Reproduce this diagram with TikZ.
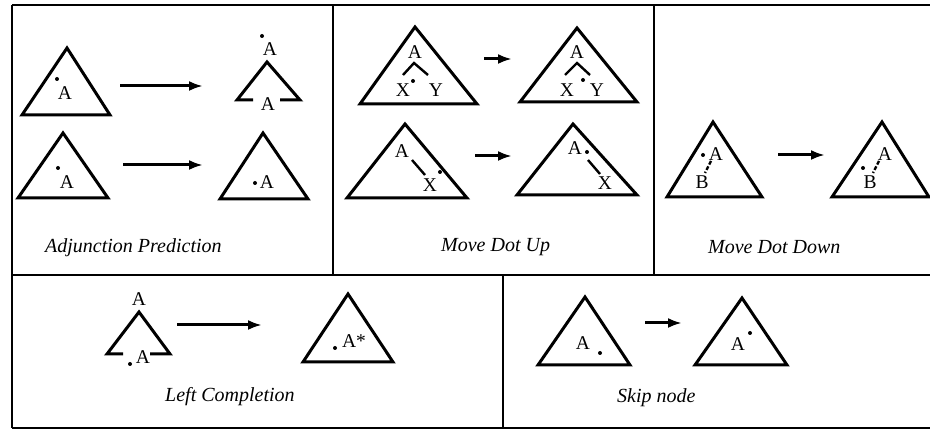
\documentclass[tikz,border=0pt]{standalone}
\usepackage{fontspec}
\setmainfont{Liberation Serif}
\usetikzlibrary{arrows.meta}
\begin{document}
\begin{tikzpicture}[x=1pt,y=-1pt,
  frame/.style={line width=2pt},
  tri/.style={line width=3pt, line join=miter},
  arr/.style={line width=3pt,-{Latex[length=14pt,width=10pt]}},
  lab/.style={font=\fontsize{19.5}{21}\selectfont, inner sep=0pt},
  captxt/.style={font=\fontsize{20}{22}\selectfont\itshape, inner sep=0pt, anchor=west},
  dot/.style={circle, fill, inner sep=0pt, minimum size=4pt},
  link/.style={line width=2.4pt},
  dlink/.style={line width=2.4pt, dash pattern=on 4pt off 2pt}]
\useasboundingbox (0,0) rectangle (930,430);

% ---------- frames ----------
\draw[frame] (12,5) -- (930,5);
\draw[frame] (12,5) -- (12,428);
\draw[frame] (333,5) -- (333,275);
\draw[frame] (654,5) -- (654,275);
\draw[frame] (12,275) -- (930,275);
\draw[frame] (503,275) -- (503,428);
\draw[frame] (12,428) -- (930,428);

% ---------- panel 1: Adjunction Prediction ----------
\draw[tri] (67,48) -- (22,115) -- (110,115) -- cycle;
\node[dot] (p1d1) at (57,79) {};
\node[lab] (p1a1) at (65,93) {A};
\coordinate (p1s1) at (120,86);
\coordinate (p1e1) at (203,86);
\draw[arr] (p1s1) -- (p1e1);
\draw[tri] (253,100) -- (237,100) -- (267,62) -- (300,100) -- (280,100);
\node[lab] (p1a2) at (268,104) {A};
\node[lab] (p1a3) at (270,49) {A};
\node[dot] (p1d2) at (262,36) {};

\draw[tri] (63,133) -- (18,198) -- (108,198) -- cycle;
\node[dot] (p1d3) at (58,168) {};
\node[lab] (p1a4) at (67,182) {A};
\coordinate (p1s2) at (123,165);
\coordinate (p1e2) at (203,165);
\draw[arr] (p1s2) -- (p1e2);
\draw[tri] (263,133) -- (220,199) -- (308,199) -- cycle;
\node[dot] (p1d4) at (255,183) {};
\node[lab] (p1a5) at (267,182) {A};
\node[captxt] (c1) at (45,248) {Adjunction Prediction};

% ---------- panel 2: Move Dot Up ----------
\draw[tri] (415,27) -- (360,104) -- (477,104) -- cycle;
\node[lab] (p2a1) at (415,52) {A};
\draw[link] (403,75) -- (414,63) -- (428,75);
\node[lab] (p2x1) at (403,90) {X};
\node[dot] (p2d1) at (413,81) {};
\node[lab] (p2y1) at (436,90) {Y};
\coordinate (p2s1) at (484,59);
\coordinate (p2e1) at (512,59);
\draw[arr] (p2s1) -- (p2e1);
\draw[tri] (577,28) -- (520,102) -- (637,102) -- cycle;
\node[lab] (p2a2) at (577,52) {A};
\draw[link] (565,75) -- (577,63) -- (590,75);
\node[lab] (p2x2) at (567,90) {X};
\node[dot] (p2d2) at (583,80) {};
\node[lab] (p2y2) at (597,90) {Y};

\draw[tri] (405,124) -- (347,198) -- (467,198) -- cycle;
\node[lab] (p2a3) at (402,151) {A};
\draw[link] (412,160) -- (425,175);
\node[lab] (p2x3) at (430,185) {X};
\node[dot] (p2d3) at (440,172) {};
\coordinate (p2s2) at (475,156);
\coordinate (p2e2) at (512,156);
\draw[arr] (p2s2) -- (p2e2);
\draw[tri] (573,124) -- (517,195) -- (637,195) -- cycle;
\node[lab] (p2a4) at (575,148) {A};
\node[dot] (p2d4) at (587,152) {};
\draw[link] (588,160) -- (600,174);
\node[lab] (p2x4) at (605,183) {X};
\node[captxt] (c2) at (441,247) {Move Dot Up};

% ---------- panel 3: Move Dot Down ----------
\draw[tri] (713,122) -- (667,197) -- (762,197) -- cycle;
\node[dot] (p3d1) at (703,155) {};
\node[lab] (p3a1) at (716,154) {A};
\draw[dlink] (711,161) -- (705,173);
\node[lab] (p3b1) at (702,182) {B};
\coordinate (p3s1) at (778,155);
\coordinate (p3e1) at (825,155);
\draw[arr] (p3s1) -- (p3e1);
\draw[tri] (882,122) -- (832,197) -- (929,197) -- cycle;
\node[lab] (p3a2) at (885,154) {A};
\node[dot] (p3d2) at (863,168) {};
\draw[dlink] (879,161) -- (873,173);
\node[lab] (p3b2) at (870,182) {B};
\node[captxt] (c3) at (708,247) {Move Dot Down};

% ---------- panel 4: Left Completion ----------
\node[lab] (p4a1) at (139,299) {A};
\draw[tri] (123,354) -- (107,354) -- (139,312) -- (170,354) -- (150,354);
\node[lab] (p4a2) at (143,357) {A};
\node[dot] (p4d1) at (130,364) {};
\coordinate (p4s1) at (177,325);
\coordinate (p4e1) at (262,325);
\draw[arr] (p4s1) -- (p4e1);
\draw[tri] (348,294) -- (303,362) -- (393,362) -- cycle;
\node[dot] (p4d2) at (335,348) {};
\node[lab] (p4a3) at (354,341) {A*};
\node[captxt] (c4) at (165,397) {Left Completion};

% ---------- panel 5: Skip node ----------
\draw[tri] (585,297) -- (538,365) -- (630,365) -- cycle;
\node[lab] (p5a1) at (583,343) {A};
\node[dot] (p5d1) at (600,353) {};
\coordinate (p5s1) at (645,323);
\coordinate (p5e1) at (682,323);
\draw[arr] (p5s1) -- (p5e1);
\draw[tri] (742,298) -- (695,365) -- (787,365) -- cycle;
\node[lab] (p5a2) at (738,344) {A};
\node[dot] (p5d2) at (750,333) {};
\node[captxt] (c5) at (617,398) {Skip node};
\end{tikzpicture}
\end{document}
